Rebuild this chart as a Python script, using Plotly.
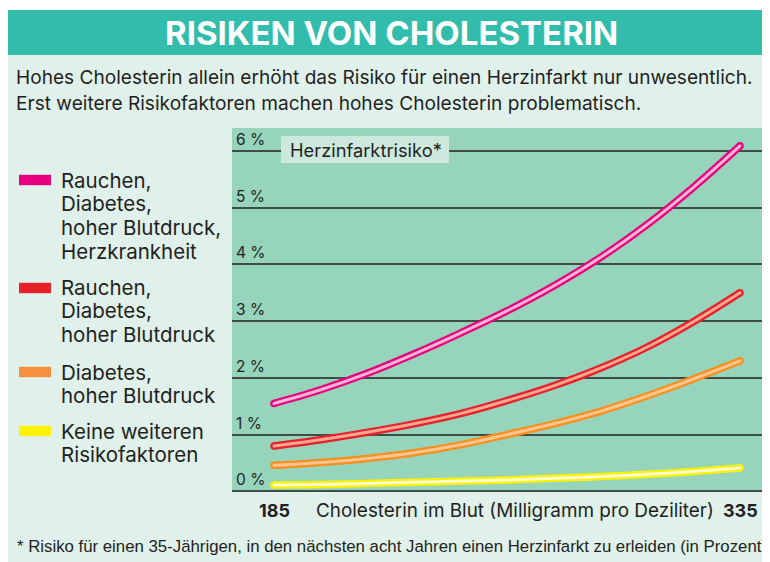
import plotly.graph_objects as go

# ---------------- data ----------------
cholesterol = [185, 200, 215, 230, 245, 260, 275, 290, 305, 320, 335]
risk_smoke_diab_bp_heart = [1.55, 1.79, 2.08, 2.42, 2.79, 3.18, 3.62, 4.12, 4.70, 5.36, 6.09]
risk_smoke_diab_bp = [0.80, 0.91, 1.04, 1.19, 1.37, 1.60, 1.86, 2.17, 2.54, 2.99, 3.50]
risk_diab_bp = [0.46, 0.51, 0.58, 0.68, 0.82, 1.00, 1.19, 1.41, 1.68, 1.98, 2.30]
risk_none = [0.11, 0.12, 0.14, 0.16, 0.18, 0.20, 0.23, 0.26, 0.30, 0.35, 0.41]

series_values = [risk_smoke_diab_bp_heart, risk_smoke_diab_bp, risk_diab_bp, risk_none]
series_labels = [
    ["Rauchen,", "Diabetes,", "hoher Blutdruck,", "Herzkrankheit"],
    ["Rauchen,", "Diabetes,", "hoher Blutdruck"],
    ["Diabetes,", "hoher Blutdruck"],
    ["Keine weiteren", "Risikofaktoren"],
]
y_tick_values = [0, 1, 2, 3, 4, 5, 6]
y_tick_labels = ["0 %", "1 %", "2 %", "3 %", "4 %", "5 %", "6 %"]
x_end_labels = ["185", "335"]

title_text = "RISIKEN VON CHOLESTERIN"
subtitle_lines = [
    "Hohes Cholesterin allein erhöht das Risiko für einen Herzinfarkt nur unwesentlich.",
    "Erst weitere Risikofaktoren machen hohes Cholesterin problematisch.",
]
axis_title = "Cholesterin im Blut (Milligramm pro Deziliter)"
chart_label = "Herzinfarktrisiko*"
footnote = "* Risiko für einen 35-Jährigen, in den nächsten acht Jahren einen Herzinfarkt zu erleiden (in Prozent)"

# ---------------- styles ----------------
outer_colors = ["#e8007f", "#e8202a", "#f7901e", "#fff200"]
inner_colors = ["#f9b4d4", "#f7a690", "#fcc48e", "#fffcd2"]
swatch_colors = ["#e8007f", "#e8202a", "#f7903e", "#fff200"]

FONT = "Inter, Liberation Sans, Arial, sans-serif"
FOOT_FONT = "Liberation Sans, Arial, sans-serif"
TXT = "#231f20"

# the page places the figure 8px from the window's top-left corner
OFF = 8
W, H = 770 - OFF, 562 - OFF
# plot area in window pixels
PL, PR, PT, PB = 232, 767, 128, 492


def px(x):
    return (x - PL) / (PR - PL)


def py(y):
    return (PB - y) / (PB - PT)


fig = go.Figure()

for vals, oc, ic in zip(series_values, outer_colors, inner_colors):
    fig.add_trace(go.Scatter(x=cholesterol, y=vals, mode="lines",
                             line=dict(color=oc, width=7.5, shape="spline"),
                             hoverinfo="skip", showlegend=False))
    fig.add_trace(go.Scatter(x=[cholesterol[0], cholesterol[-1]], y=[vals[0], vals[-1]],
                             mode="markers", marker=dict(color=oc, size=7.5, line=dict(width=0)),
                             hoverinfo="skip", showlegend=False))
    fig.add_trace(go.Scatter(x=cholesterol, y=vals, mode="lines",
                             line=dict(color=ic, width=3, shape="spline"),
                             hoverinfo="skip", showlegend=False))
    fig.add_trace(go.Scatter(x=[cholesterol[0], cholesterol[-1]], y=[vals[0], vals[-1]],
                             mode="markers", marker=dict(color=ic, size=3, line=dict(width=0)),
                             hoverinfo="skip", showlegend=False))

shapes = [
    # light panel
    dict(type="rect", xref="paper", yref="paper", x0=px(7), x1=px(775), y0=py(570), y1=py(55),
         fillcolor="#e0f1eb", line=dict(width=0), layer="below"),
    # title bar
    dict(type="rect", xref="paper", yref="paper", x0=px(7), x1=px(775), y0=py(55), y1=py(10),
         fillcolor="#31bcac", line=dict(width=0), layer="below"),
    # plot area
    dict(type="rect", xref="paper", yref="paper", x0=0, x1=1, y0=0, y1=1,
         fillcolor="#97d4bc", line=dict(width=0), layer="below"),
    # label box
    dict(type="rect", xref="paper", yref="paper", x0=px(281), x1=px(449), y0=py(163), y1=py(136),
         fillcolor="#cde9de", line=dict(width=0), layer="above"),
]

annotations = [
    dict(text=f"<b>{title_text}</b>", xref="paper", yref="paper", x=px(391), y=py(33),
         xanchor="center", yanchor="middle", showarrow=False,
         font=dict(family=FONT, size=33, color="white")),
    dict(text=chart_label, xref="paper", yref="paper", x=px(366), y=py(149.5),
         xanchor="center", yanchor="middle", showarrow=False,
         font=dict(family=FONT, size=18.3, color=TXT)),
    dict(text=f"<b>{x_end_labels[0]}</b>", xref="x", yref="paper", x=cholesterol[0], y=py(510),
         xanchor="center", yanchor="middle", showarrow=False,
         font=dict(family=FONT, size=18, color=TXT)),
    dict(text=f"<b>{x_end_labels[1]}</b>", xref="x", yref="paper", x=cholesterol[-1], y=py(510),
         xanchor="center", yanchor="middle", showarrow=False,
         font=dict(family=FONT, size=18, color=TXT)),
    dict(text=axis_title, xref="paper", yref="paper", x=px(514.5), y=py(510),
         xanchor="center", yanchor="middle", showarrow=False,
         font=dict(family=FONT, size=18.9, color=TXT)),
    dict(text=footnote, xref="paper", yref="paper", x=px(15), y=py(546),
         xanchor="left", yanchor="middle", showarrow=False,
         font=dict(family=FOOT_FONT, size=16.8, color=TXT)),
]

for i, line in enumerate(subtitle_lines):
    annotations.append(dict(text=line, xref="paper", yref="paper", x=px(14), y=py(77 + 25.5 * i),
                            xanchor="left", yanchor="middle", showarrow=False,
                            font=dict(family=FONT, size=19.1, color=TXT)))

for v, lab in zip(y_tick_values, y_tick_labels):
    annotations.append(dict(text=lab, xref="paper", yref="y", x=px(234), y=v,
                            xanchor="left", yanchor="bottom", yshift=0, showarrow=False,
                            font=dict(family=FONT, size=15.5, color=TXT)))

# custom legend
legend_tops = [180, 287, 372, 431]
swatch_centers = [180, 288, 372, 431]
for lines, top, sc, col in zip(series_labels, legend_tops, swatch_centers, swatch_colors):
    shapes.append(dict(type="rect", xref="paper", yref="paper", x0=px(19), x1=px(51),
                       y0=py(sc + 5.2), y1=py(sc - 5.2), fillcolor=col,
                       line=dict(width=0), layer="above"))
    for j, line in enumerate(lines):
        annotations.append(dict(text=line, xref="paper", yref="paper", x=px(59), y=py(top + 23.7 * j),
                                xanchor="left", yanchor="middle", showarrow=False,
                                font=dict(family=FONT, size=20.5, color=TXT)))

fig.update_layout(
    width=W, height=H,
    margin=dict(l=PL - OFF, r=770 - PR, t=PT - OFF, b=562 - PB, pad=0),
    paper_bgcolor="white",
    plot_bgcolor="rgba(0,0,0,0)",
    shapes=shapes,
    annotations=annotations,
    xaxis=dict(range=[171.48, 343.69], showgrid=False, zeroline=False, showticklabels=False,
               ticks="", showline=False, fixedrange=True),
    yaxis=dict(range=[-0.012, 6.405], tickvals=y_tick_values, showticklabels=False, ticks="",
               showgrid=True, gridcolor="#3f4d47", gridwidth=1.5,
               zeroline=True, zerolinecolor="#3f4d47", zerolinewidth=1.5,
               showline=False, fixedrange=True),
    showlegend=False,
)

fig.write_html("out.html")
